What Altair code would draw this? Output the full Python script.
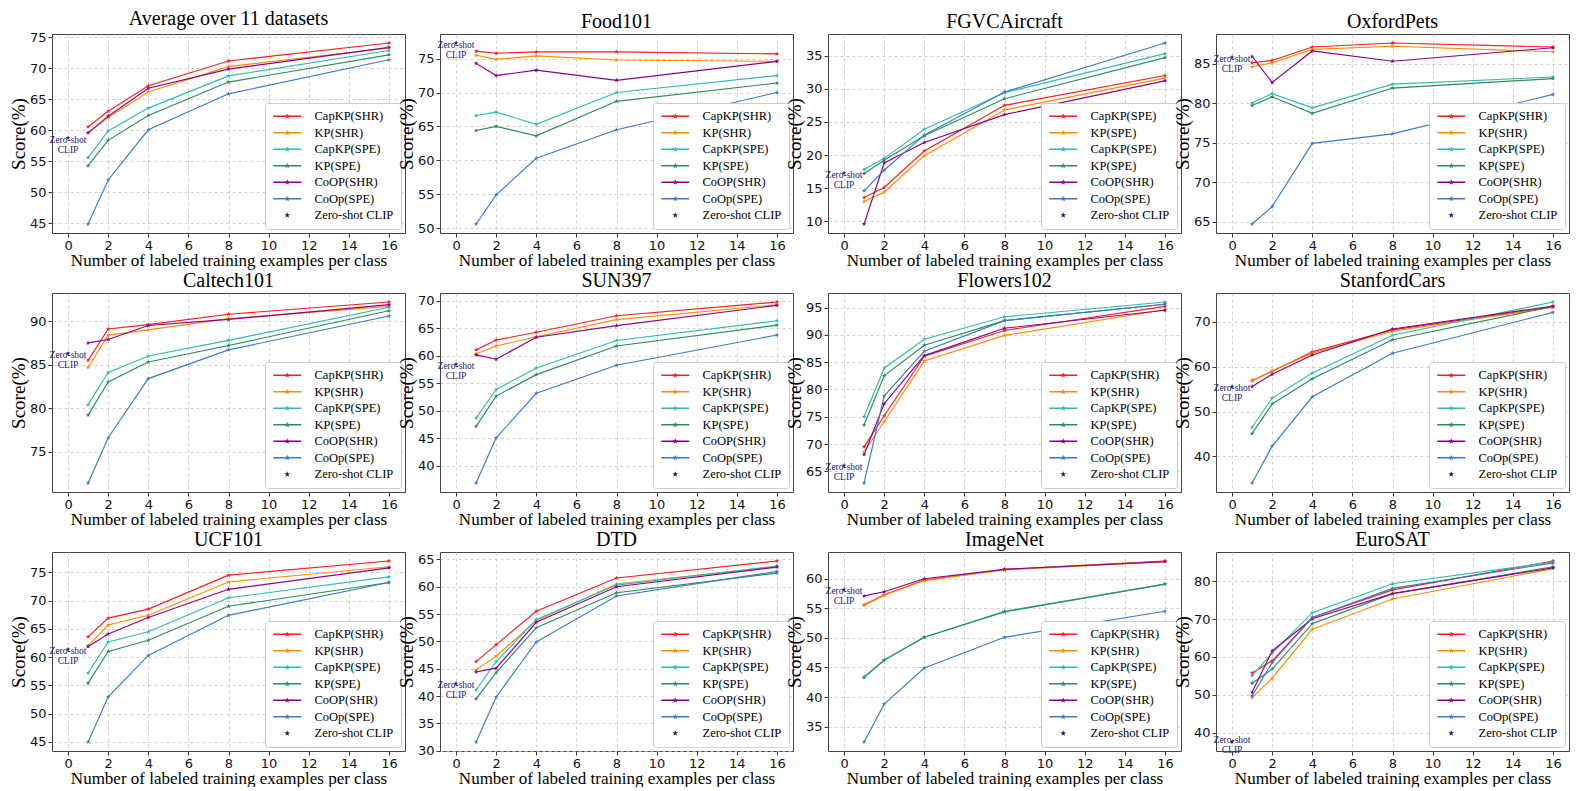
import math
import altair as alt
import pandas as pd

SERIF = "Liberation Serif"
SANS = "DejaVu Sans"

X_SHOTS = [1, 2, 4, 8, 16]
SERIES_KEYS = ["0", "1", "2", "3", "4", "5", "6"]
LABELS_STD = ["CapKP(SHR)", "KP(SHR)", "CapKP(SPE)", "KP(SPE)", "CoOP(SHR)", "CoOp(SPE)", "Zero-shot CLIP"]
LABELS_FGVC = ["CapKP(SPE)", "KP(SPE)", "CapKP(SPE)", "KP(SPE)", "CoOP(SHR)", "CoOp(SPE)", "Zero-shot CLIP"]
COLORS = ["#ff1c1c", "#ff8c00", "#2ebcae", "#2e8b57", "#8b008b", "#3a7bc8", "#191970"]

# rows: CapKP(SHR), KP(SHR), CapKP(SPE), KP(SPE), CoOP(SHR), CoOp(SPE)
avg_scores = [
    [60.6, 63.1, 67.2, 71.2, 74.1],
    [59.6, 62.1, 66.2, 70.3, 73.3],
    [55.6, 59.9, 63.6, 68.8, 72.9],
    [54.3, 58.4, 62.4, 67.8, 72.2],
    [59.6, 62.3, 66.8, 69.9, 73.4],
    [44.9, 52.0, 60.1, 65.9, 71.4],
]
avg_zero = 58.8

food_scores = [
    [76.1, 75.8, 76.0, 76.0, 75.7],
    [75.5, 74.9, 75.4, 74.8, 74.6],
    [66.6, 67.1, 65.3, 70.0, 72.5],
    [64.4, 65.0, 63.6, 68.7, 71.4],
    [74.3, 72.5, 73.3, 71.8, 74.6],
    [50.6, 54.9, 60.3, 64.5, 70.0],
]
food_zero = 77.3

fgvc_scores = [
    [13.6, 15.1, 20.6, 27.5, 32.0],
    [13.0, 14.4, 19.9, 26.8, 31.6],
    [17.8, 19.5, 23.9, 29.4, 35.3],
    [17.2, 19.2, 22.9, 28.5, 34.7],
    [9.6, 18.8, 21.9, 26.1, 31.2],
    [14.6, 17.7, 23.0, 29.5, 36.9],
]
fgvc_zero = 17.3

pets_scores = [
    [85.1, 85.4, 87.1, 87.6, 87.1],
    [84.6, 85.1, 86.8, 87.2, 86.5],
    [80.0, 81.2, 79.4, 82.4, 83.3],
    [79.7, 80.8, 78.7, 81.9, 83.1],
    [85.9, 82.6, 86.6, 85.3, 87.0],
    [64.7, 66.9, 74.9, 76.1, 81.1],
]
pets_zero = 85.8

caltech_scores = [
    [85.5, 89.1, 89.6, 90.8, 92.2],
    [84.7, 88.4, 89.0, 90.3, 91.7],
    [80.4, 84.1, 86.0, 87.8, 91.6],
    [79.2, 83.0, 85.3, 87.2, 91.2],
    [87.5, 87.9, 89.5, 90.2, 91.9],
    [71.4, 76.6, 83.4, 86.7, 90.6],
]
caltech_zero = 86.3

sun_scores = [
    [61.1, 62.9, 64.3, 67.3, 69.8],
    [60.4, 61.8, 63.5, 66.6, 69.3],
    [48.7, 53.9, 57.8, 62.8, 66.4],
    [47.2, 52.7, 56.6, 61.8, 65.6],
    [60.2, 59.4, 63.4, 65.5, 69.2],
    [36.9, 45.1, 53.2, 58.3, 63.8],
]
sun_zero = 58.5

flowers_scores = [
    [69.5, 75.2, 86.1, 90.8, 95.2],
    [68.6, 74.1, 85.2, 89.9, 94.6],
    [75.0, 83.9, 89.2, 93.3, 96.0],
    [73.5, 82.5, 88.1, 92.6, 95.6],
    [68.1, 77.4, 86.2, 91.2, 94.5],
    [62.9, 78.8, 87.0, 92.6, 95.6],
]
flowers_zero = 66.1

cars_scores = [
    [56.9, 59.0, 63.3, 68.2, 73.3],
    [56.8, 59.1, 63.0, 67.9, 73.2],
    [46.5, 53.0, 58.6, 67.0, 74.4],
    [45.1, 51.7, 57.3, 66.0, 73.4],
    [55.6, 58.3, 62.6, 68.4, 73.5],
    [34.1, 42.3, 53.3, 63.0, 72.1],
]
cars_zero = 55.6

ucf_scores = [
    [63.6, 66.9, 68.5, 74.5, 77.0],
    [62.0, 65.7, 67.4, 73.3, 76.0],
    [57.2, 62.7, 64.5, 70.5, 74.2],
    [55.4, 61.0, 63.0, 69.0, 73.2],
    [61.9, 64.1, 67.0, 72.0, 75.8],
    [45.0, 53.0, 60.3, 67.4, 73.2],
]
ucf_zero = 61.4

dtd_scores = [
    [46.3, 49.4, 55.5, 61.6, 64.7],
    [44.8, 47.3, 53.8, 60.5, 63.7],
    [41.1, 46.3, 54.0, 60.3, 63.8],
    [39.5, 44.3, 52.5, 58.9, 62.5],
    [44.4, 45.1, 53.5, 60.0, 63.6],
    [31.6, 39.8, 49.9, 58.3, 62.8],
]
dtd_zero = 42.3

imagenet_scores = [
    [55.6, 57.3, 59.8, 61.6, 63.0],
    [55.5, 57.2, 59.7, 61.5, 62.9],
    [43.4, 46.3, 50.1, 54.5, 59.1],
    [43.3, 46.2, 50.1, 54.4, 59.1],
    [57.1, 57.8, 60.0, 61.6, 62.9],
    [32.4, 38.8, 44.9, 50.1, 54.5],
]
imagenet_zero = 58.2

eurosat_scores = [
    [55.8, 59.0, 70.4, 77.7, 85.3],
    [49.3, 54.4, 67.3, 75.3, 83.3],
    [55.1, 61.0, 71.7, 79.3, 85.0],
    [53.1, 56.8, 68.8, 76.7, 83.8],
    [50.7, 61.6, 70.1, 76.7, 83.5],
    [49.8, 58.5, 70.4, 78.1, 84.8],
]
eurosat_zero = 37.6

# (title, scores, zero-shot, legend labels, y tick step, zero-shot label above)
PANELS = [
    ("Average over 11 datasets", avg_scores, avg_zero, LABELS_STD, 5, False),
    ("Food101", food_scores, food_zero, LABELS_STD, 5, False),
    ("FGVCAircraft", fgvc_scores, fgvc_zero, LABELS_FGVC, 5, False),
    ("OxfordPets", pets_scores, pets_zero, LABELS_STD, 5, False),
    ("Caltech101", caltech_scores, caltech_zero, LABELS_STD, 5, False),
    ("SUN397", sun_scores, sun_zero, LABELS_STD, 5, False),
    ("Flowers102", flowers_scores, flowers_zero, LABELS_STD, 5, False),
    ("StanfordCars", cars_scores, cars_zero, LABELS_STD, 10, False),
    ("UCF101", ucf_scores, ucf_zero, LABELS_STD, 5, False),
    ("DTD", dtd_scores, dtd_zero, LABELS_STD, 5, False),
    ("ImageNet", imagenet_scores, imagenet_zero, LABELS_STD, 5, False),
    ("EuroSAT", eurosat_scores, eurosat_zero, LABELS_STD, 10, True),
]

STAR = ("M0,-1L0.235,-0.324L0.951,-0.309L0.380,0.124L0.588,0.809L0,0.4"
        "L-0.588,0.809L-0.380,0.124L-0.951,-0.309L-0.235,-0.324Z")
LEG_STAR = ("M0,-0.6L0.141,-0.194L0.571,-0.185L0.228,0.074L0.353,0.485L0,0.24"
            "L-0.353,0.485L-0.228,0.074L-0.571,-0.185L-0.141,-0.194Z")
LEG_LINE_STAR = "M-2.8,-0.14L2.8,-0.14L2.8,0.14L-2.8,0.14Z" + LEG_STAR

W, H = 353, 199


def make_panel(title, scores, zero, labels, step, above):
    rows = []
    for k, vals in enumerate(scores):
        for xv, v in zip(X_SHOTS, vals):
            rows.append({"shots": xv, "score": v, "series": SERIES_KEYS[k], "col": COLORS[k]})
    rows.append({"shots": 0, "score": zero, "series": SERIES_KEYS[6], "col": COLORS[6]})
    df = pd.DataFrame(rows)

    allv = [v for s in scores for v in s] + [zero]
    lo, hi = min(allv), max(allv)
    m = (hi - lo) * 0.05
    ydom = [lo - m, hi + m]
    ticks = list(range(int(math.ceil(ydom[0] / step)) * step, int(math.floor(ydom[1])) + 1, step))

    x = alt.X("shots:Q",
              scale=alt.Scale(domain=[-0.8, 16.8], nice=False, zero=False),
              axis=alt.Axis(values=list(range(0, 17, 2)),
                            title="Number of labeled training examples per class"))
    y = alt.Y("score:Q",
              scale=alt.Scale(domain=ydom, nice=False, zero=False),
              axis=alt.Axis(values=ticks, title="Score(%)"))
    cscale = alt.Scale(domain=SERIES_KEYS, range=COLORS)
    label_list = ",".join("'" + l + "'" for l in labels)
    leg = alt.Legend(title=None, orient="bottom-right", offset=4,
                     labelExpr="[" + label_list + "][toNumber(datum.value)]")

    base = alt.Chart(df)
    legend_layer = base.transform_filter("datum.shots < -100").mark_point(
        filled=True, opacity=1, strokeWidth=0).encode(
        x=x, y=y,
        color=alt.Color("series:N", scale=cscale, legend=leg),
        shape=alt.Shape("series:N",
                        scale=alt.Scale(domain=SERIES_KEYS, range=[LEG_LINE_STAR] * 6 + [LEG_STAR]),
                        legend=leg))
    lines = base.transform_filter("datum.shots > 0").mark_line(strokeWidth=1.15).encode(
        x=x, y=y, color=alt.Color("col:N", scale=None), detail="series:N")
    points = base.mark_point(shape=STAR, filled=True, size=24, opacity=1, strokeWidth=0).encode(
        x=x, y=y, color=alt.Color("col:N", scale=None))
    zs = pd.DataFrame([{"shots": 0, "score": zero, "label": "Zero-shot\nCLIP"}])
    text = alt.Chart(zs).mark_text(
        font=SERIF, fontSize=9.5, color="#191970", lineBreak="\n", lineHeight=10,
        baseline="bottom" if above else "top", dy=3 if above else -3).encode(
        x=x, y=y, text="label:N")
    return alt.layer(legend_layer, text, lines, points).properties(
        width=W, height=H, title=title)


charts = [make_panel(*p) for p in PANELS]

chart = alt.concat(*charts, columns=4, spacing={"row": 60, "column": 35}, bounds="flush").resolve_scale(
    color="independent", shape="independent", x="independent", y="independent"
).resolve_legend(color="independent", shape="independent").properties(
    padding={"left": 0, "top": 0, "right": 0, "bottom": 0}
).configure_view(
    stroke="#444444", strokeWidth=1
).configure_axis(
    grid=True, gridDash=[3, 3], gridColor="#c4c4c4", gridWidth=0.8,
    domain=False, tickColor="#333333", tickSize=4,
    labelFont=SANS, labelFontSize=13, labelColor="#111111", labelPadding=2,
    titleFont=SERIF, titleFontWeight="normal", titleColor="#000000", titlePadding=0
).configure_axisX(
    titleFontSize=17
).configure_axisY(
    titleFontSize=19, titlePadding=1
).configure_title(
    font=SERIF, fontSize=20, fontWeight="normal", color="#000000", offset=2
).configure_legend(
    labelFont=SERIF, labelFontSize=12.5, labelColor="#000000",
    symbolSize=100, symbolOffset=9, labelOffset=21, rowPadding=3.5,
    padding=7, fillColor="white", strokeColor="#cccccc", cornerRadius=3,
    symbolOpacity=1, symbolStrokeWidth=0
)

chart.save("out.html", embed_options={"renderer": "svg", "actions": False})
